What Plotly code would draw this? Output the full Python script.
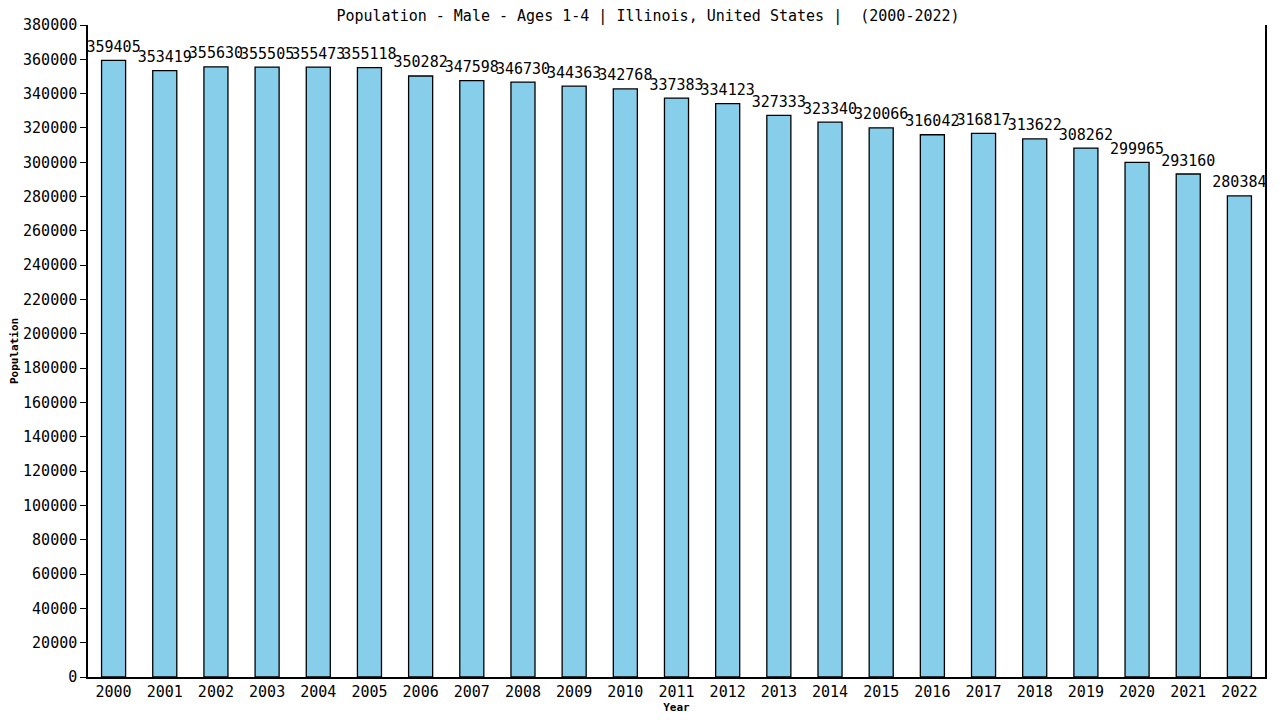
import plotly.graph_objects as go

years = [str(y) for y in range(2000, 2023)]
population = [359405, 353419, 355630, 355505, 355473, 355118, 350282, 347598, 346730,
              344363, 342768, 337383, 334123, 327333, 323340, 320066, 316042, 316817,
              313622, 308262, 299965, 293160, 280384]
y_ticks = list(range(0, 380001, 20000))

font = "DejaVu Sans Mono"

fig = go.Figure()
fig.add_trace(go.Bar(
    x=years, y=population,
    marker=dict(color="#87CEEB", line=dict(color="black", width=1.3)),
    width=0.47,
    hoverinfo="x+y",
))
fig.add_trace(go.Scatter(
    x=years, y=population,
    mode="markers+text",
    marker=dict(size=6, opacity=0),
    text=[str(v) for v in population],
    textposition="top center",
    textfont=dict(family=font, size=15, color="black"),
    cliponaxis=False,
    hoverinfo="skip",
))

# page body has an 8px margin, so the figure is offset by 8px right and down
fig.update_layout(
    width=1280, height=720,
    margin=dict(l=80, r=23, t=17, b=51),
    plot_bgcolor="white", paper_bgcolor="white",
    title=dict(text="Population - Male - Ages 1-4 | Illinois, United States |  (2000-2022)",
               x=0.5, xanchor="center", y=1 - 8 / 720, yanchor="middle",
               font=dict(family=font, size=15, color="black")),
    font=dict(family=font, color="black"),
    showlegend=False,
)
fig.update_xaxes(
    title=dict(text="<b>Year</b>", font=dict(family=font, size=11, color="black"), standoff=4),
    range=[-0.5, 22.5],
    tickfont=dict(family=font, size=15, color="black"),
    showline=True, linecolor="black", linewidth=1.5,
    ticks="", showgrid=False, automargin=False,
)
fig.update_yaxes(
    title=dict(text="<b>Population</b>", font=dict(family=font, size=11, color="black"), standoff=12),
    range=[0, 380000], tickvals=y_ticks, ticktext=[str(v) for v in y_ticks],
    tickfont=dict(family=font, size=15, color="black"),
    showline=True, linecolor="black", linewidth=1.5, mirror=True,
    ticks="outside", ticklen=6, tickcolor="black",
    showgrid=False, zeroline=False, automargin=False,
)

fig.write_html("out.html")
